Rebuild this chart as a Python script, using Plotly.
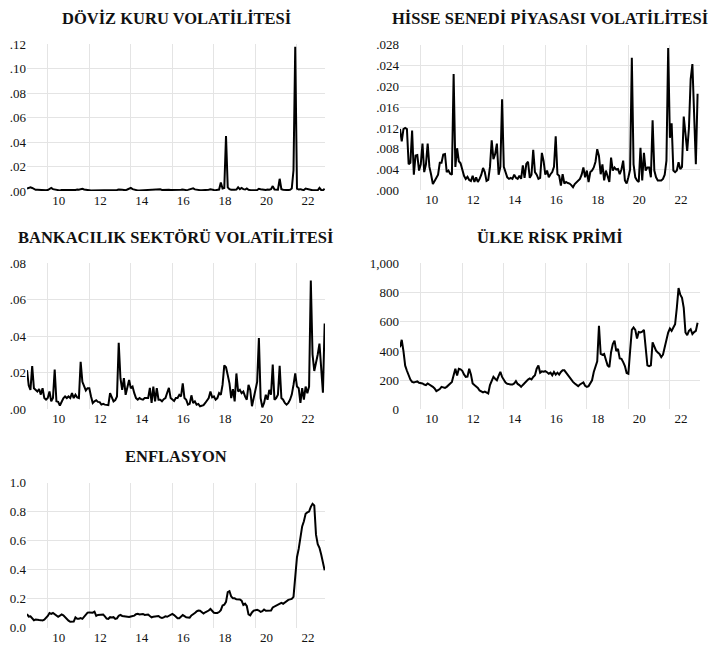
import plotly.graph_objects as go

# ---------------- DATA (monthly, 2009M01 .. 2023M05) ----------------
start_year = 2009
n_months = 173
dates = [start_year + i / 12 for i in range(n_months)]

year_ticks = [2010, 2012, 2014, 2016, 2018, 2020, 2022]
year_labels = ["10", "12", "14", "16", "18", "20", "22"]

# DÖVİZ KURU VOLATİLİTESİ (per mille)
fx_vol = [
    2.0, 2.5, 3.0, 2.5, 1.5, 1.0, 1.0, 0.8, 0.8, 0.7, 0.6, 0.6,
    0.8, 1.5, 2.5, 1.5, 1.2, 0.6, 0.5, 0.5, 0.8, 0.8, 0.9, 0.7,
    0.8, 0.6, 0.5, 0.8, 0.9, 1.2, 1.0, 1.5, 1.8, 1.2, 0.8, 0.7,
    0.6, 0.4, 0.4, 0.5, 0.6, 0.4, 0.3, 0.3, 0.3, 0.3, 0.4, 0.3,
    0.4, 0.5, 0.4, 0.6, 0.8, 1.2, 0.8, 1.0, 0.9, 0.7, 1.2, 1.8,
    2.5, 1.5, 1.0, 0.6, 0.5, 0.5, 0.6, 0.7, 0.8, 0.9, 0.8, 1.0,
    1.0, 1.2, 1.0, 0.9, 1.0, 1.4, 0.9, 1.0, 1.3, 0.8, 1.0, 0.8,
    0.8, 0.7, 0.6, 0.8, 0.7, 1.0, 1.3, 0.8, 0.7, 0.9, 1.5, 2.0,
    2.2, 1.3, 0.9, 0.8, 0.7, 0.6, 0.6, 0.6, 0.8, 1.0, 1.4, 0.9,
    0.8, 0.7, 0.9, 1.2, 7.0, 2.0, 2.5, 45.0, 3.0, 1.5, 1.0, 0.8,
    1.0, 1.2, 3.0, 1.5, 2.5, 1.5, 1.2, 2.0, 1.0, 0.8, 0.6, 0.7,
    0.6, 0.8, 1.8, 1.5, 1.2, 0.6, 0.8, 1.2, 1.0, 1.5, 4.0, 1.2,
    1.2, 1.0, 10.0, 1.5, 1.0, 1.2, 0.8, 0.8, 1.0, 2.0, 17.0, 118.0,
    2.0, 1.2, 1.5, 1.0, 0.8, 2.0, 1.5, 1.0, 0.8, 0.6, 0.6, 0.6,
    0.6, 2.5, 0.8, 0.6, 1.8,
]

# HİSSE SENEDİ PİYASASI VOLATİLİTESİ (per mille)
stock_vol = [
    11.8, 9.4, 11.8, 12.0, 11.8, 5.0, 5.3, 11.5, 3.0, 6.7, 6.8, 3.8,
    5.0, 9.0, 3.5, 5.0, 9.0, 4.5, 3.0, 1.2, 1.8, 2.5, 3.0, 5.3,
    5.3, 6.9, 7.0, 3.5, 3.8, 3.2, 3.0, 22.4, 4.5, 8.1, 5.6, 5.2,
    3.8, 2.8, 2.2, 2.6, 2.0, 1.8, 2.8, 1.6, 2.5, 1.6, 2.2, 3.0,
    4.3, 3.5, 1.8, 2.0, 4.5, 9.6, 6.0, 7.0, 9.0, 3.0, 4.5, 17.5,
    4.5, 3.5, 2.5, 2.2, 2.4, 2.2, 3.0, 2.4, 2.2, 2.8, 2.2, 4.8,
    2.4, 5.1, 5.5, 2.4, 3.0, 7.8, 3.5, 3.0, 2.2, 2.4, 7.2, 5.6,
    3.0, 3.8, 2.5, 3.1, 3.5, 4.5, 10.4, 3.1, 2.8, 0.9, 3.1, 1.3,
    1.6, 1.4, 1.3, 1.0, 0.6, 1.2, 1.6, 2.0, 2.2, 3.0, 4.4, 2.5,
    3.8, 1.6, 3.5, 3.8, 4.4, 5.5, 7.9, 6.6, 3.1, 5.0, 1.9, 3.8,
    2.5, 1.6, 6.3, 3.8, 4.4, 4.0, 4.1, 3.1, 4.0, 5.7, 1.9, 1.3,
    2.5, 4.0, 25.5, 5.0, 2.5, 1.9, 1.6, 8.2, 1.9, 7.2, 3.8, 4.4,
    4.4, 2.5, 13.5, 3.8, 2.5, 1.9, 1.9, 1.9, 2.2, 3.0, 5.7, 27.4,
    10.1, 12.9, 3.8, 3.5, 3.8, 5.4, 4.1, 4.5, 14.2, 10.0, 7.6, 12.0,
    21.4, 24.3, 13.0, 5.0, 18.6,
]

# BANKACILIK SEKTÖRÜ VOLATİLİTESİ (per mille)
bank_vol = [
    21.4, 13.0, 10.6, 23.6, 11.5, 10.6, 9.7, 11.0, 8.0, 11.5, 6.1, 5.2,
    6.1, 9.7, 4.3, 6.1, 21.8, 4.3, 4.0, 2.0, 4.3, 6.0, 7.0, 6.1,
    7.0, 6.1, 8.8, 6.1, 7.9, 6.5, 6.1, 26.0, 15.0, 12.4, 10.3, 11.5,
    11.5, 7.0, 3.4, 4.3, 4.9, 4.0, 3.9, 2.5, 2.9, 2.5, 2.2, 2.2,
    8.8, 6.1, 4.3, 5.0, 7.0, 36.4, 17.0, 10.6, 17.0, 7.9, 12.0, 16.0,
    11.5, 12.4, 8.8, 6.1, 5.2, 6.1, 5.5, 5.2, 6.1, 6.1, 6.1, 11.7,
    3.4, 12.4, 4.3, 11.5, 5.2, 5.2, 4.3, 5.5, 6.1, 9.0, 11.7, 6.1,
    5.2, 4.5, 6.1, 6.1, 7.9, 7.0, 14.2, 6.1, 5.2, 2.5, 2.9, 7.6,
    3.4, 4.3, 2.5, 2.9, 1.6, 2.0, 2.2, 3.4, 5.0, 6.1, 9.7, 6.5,
    7.0, 5.2, 6.1, 8.8, 7.9, 13.3, 24.0, 23.0, 18.7, 14.2, 6.1, 11.0,
    4.3, 19.6, 9.7, 10.6, 8.8, 9.7, 7.0, 5.2, 13.3, 10.6, 1.6, 6.1,
    10.6, 15.0, 39.0, 6.1, 1.0, 3.4, 7.9, 5.2, 10.6, 8.0, 24.5, 5.2,
    6.1, 7.9, 23.8, 6.1, 5.2, 3.4, 2.5, 3.4, 5.2, 8.0, 13.3, 19.6,
    12.4, 11.5, 3.4, 11.5, 5.2, 12.4, 8.8, 12.4, 70.6, 30.0, 21.0, 25.0,
    30.0, 36.0, 22.0, 9.0, 47.0,
]

# ÜLKE RİSK PRİMİ (basis points)
risk_premium = [
    426, 477, 400, 300, 265, 230, 205, 189, 185, 189, 192, 183,
    182, 178, 171, 167, 178, 170, 167, 155, 144, 126, 133, 140,
    155, 150, 148, 155, 165, 175, 189, 234, 279, 232, 279, 275,
    265, 240, 223, 225, 279, 240, 178, 167, 160, 148, 130, 122,
    117, 122, 117, 110, 167, 200, 223, 210, 200, 230, 257, 223,
    200, 185, 176, 171, 171, 171, 178, 194, 175, 167, 155, 168,
    183, 195, 205, 212, 205, 223, 234, 279, 302, 252, 261, 258,
    262, 255, 245, 252, 234, 257, 239, 252, 239, 257, 268, 268,
    252, 234, 216, 200, 189, 178, 171, 160, 171, 180, 185, 162,
    155, 160, 180, 200, 257, 290, 330, 572, 380, 374, 380, 340,
    302, 290, 392, 448, 471, 400, 414, 350, 347, 324, 297, 250,
    245, 400, 545, 561, 545, 486, 530, 527, 532, 545, 437, 302,
    297, 302, 459, 426, 403, 390, 380, 358, 375, 426, 482, 527,
    554, 538, 561, 583, 696, 831, 786, 764, 696, 527, 509, 538,
    549, 516, 530, 538, 594,
]

# ENFLASYON (annual rate, fraction)
inflation = [
    .0950, .0773, .0789, .0613, .0524, .0573, .0539, .0533, .0527, .0508, .0553, .0653,
    .0819, .1013, .0956, .1019, .0910, .0837, .0758, .0833, .0924, .0862, .0729, .0640,
    .0490, .0416, .0399, .0426, .0717, .0624, .0631, .0665, .0615, .0766, .0948, .1045,
    .1061, .1043, .1043, .1114, .0828, .0887, .0907, .0888, .0919, .0780, .0637, .0616,
    .0731, .0703, .0729, .0613, .0651, .0830, .0888, .0817, .0788, .0771, .0732, .0740,
    .0775, .0789, .0839, .0938, .0966, .0916, .0932, .0954, .0886, .0896, .0915, .0817,
    .0724, .0755, .0761, .0791, .0809, .0720, .0681, .0714, .0795, .0758, .0810, .0881,
    .0958, .0878, .0746, .0657, .0658, .0764, .0879, .0805, .0728, .0716, .0700, .0853,
    .0922, .1013, .1129, .1187, .1172, .1090, .0979, .1068, .1120, .1190, .1298, .1192,
    .1035, .1026, .1023, .1085, .1215, .1539, .1585, .1790, .2452, .2524, .2162, .2030,
    .2035, .1967, .1971, .1950, .1871, .1572, .1665, .1501, .0926, .0855, .1056, .1184,
    .1215, .1237, .1186, .1094, .1139, .1262, .1176, .1177, .1175, .1189, .1403, .1460,
    .1497, .1561, .1619, .1714, .1659, .1753, .1895, .1925, .1958, .1989, .2131, .3608,
    .4869, .5444, .6114, .6997, .7350, .7862, .7960, .8021, .8345, .8551, .8439, .6427,
    .5768, .5518, .5051, .4368, .3959,
]

titles = [
    "DÖVİZ KURU VOLATİLİTESİ",
    "HİSSE SENEDİ PİYASASI VOLATİLİTESİ",
    "BANKACILIK SEKTÖRÜ VOLATİLİTESİ",
    "ÜLKE RİSK PRİMİ",
    "ENFLASYON",
]

# y axis ticks (values are in the same units as the series above)
y_ticks = [
    ([0, 20, 40, 60, 80, 100, 120], [".00", ".02", ".04", ".06", ".08", ".10", ".12"]),
    ([0, 4, 8, 12, 16, 20, 24, 28], [".000", ".004", ".008", ".012", ".016", ".020", ".024", ".028"]),
    ([0, 20, 40, 60, 80], [".00", ".02", ".04", ".06", ".08"]),
    ([0, 200, 400, 600, 800, 1000], ["0", "200", "400", "600", "800", "1,000"]),
    ([0, 0.2, 0.4, 0.6, 0.8, 1.0], ["0.0", "0.2", "0.4", "0.6", "0.8", "1.0"]),
]

series = [fx_vol, stock_vol, bank_vol, risk_premium, inflation]

# ---------------- LAYOUT (pixel geometry) ----------------
W, H = 712, 656
# (x0, x1, ytop, ybottom, xmax)
boxes = [
    (27, 325, 38.3, 188.3, 2023.35),
    (400, 700, 38.7, 187.6, 2023.45),
    (27, 325, 262.4, 411.6, 2023.35),
    (400, 700, 262.4, 411.9, 2023.45),
    (27, 325, 487.0, 635.3, 2023.35),
]
title_pos = [(176, 11.5), (550, 11.5), (175, 235.5), (550, 235.5), (176, 460)]

FONT = "Liberation Serif"
GRID = "#e4e4e4"

fig = go.Figure()
layout = dict(
    width=W, height=H,
    margin=dict(l=0, r=0, t=0, b=0),
    paper_bgcolor="white", plot_bgcolor="white",
    showlegend=False,
    font=dict(family=FONT, size=13, color="#111111"),
    annotations=[],
)

for i, (ys, box) in enumerate(zip(series, boxes)):
    k = "" if i == 0 else str(i + 1)
    x0, x1, yt, yb, xmax = box
    fig.add_trace(go.Scatter(
        x=dates, y=ys, mode="lines",
        line=dict(color="black", width=2),
        xaxis="x" + k, yaxis="y" + k,
        hoverinfo="x+y",
    ))
    tv, tt = y_ticks[i]
    layout["xaxis" + k] = dict(
        domain=[x0 / W, x1 / W],
        range=[2009.0, xmax],
        anchor="y" + k,
        tickmode="array", tickvals=year_ticks, ticktext=year_labels,
        showgrid=True, gridcolor=GRID, gridwidth=1,
        zeroline=False, showline=False, ticks="",
        ticklabelshift=11,
        tickfont=dict(family=FONT, size=13, color="#111111"),
    )
    layout["yaxis" + k] = dict(
        domain=[1 - yb / H, 1 - yt / H],
        range=[tv[0], tv[-1]],
        anchor="x" + k,
        tickmode="array", tickvals=tv, ticktext=tt,
        showgrid=True, gridcolor=GRID, gridwidth=1,
        zeroline=False, showline=False, ticks="",
        tickfont=dict(family=FONT, size=13, color="#111111"),
    )
    tx, ty = title_pos[i]
    layout["annotations"].append(dict(
        text="<b>" + titles[i] + "</b>",
        x=tx / W, y=1 - ty / H, xref="paper", yref="paper",
        xanchor="center", yanchor="middle", showarrow=False,
        font=dict(family=FONT, size=16.5, color="#111111"),
    ))

fig.update_layout(**layout)
fig.write_html(
    "out.html",
    config={"displayModeBar": False},
    post_script="document.body.style.margin='0';document.body.style.overflow='hidden';",
)
